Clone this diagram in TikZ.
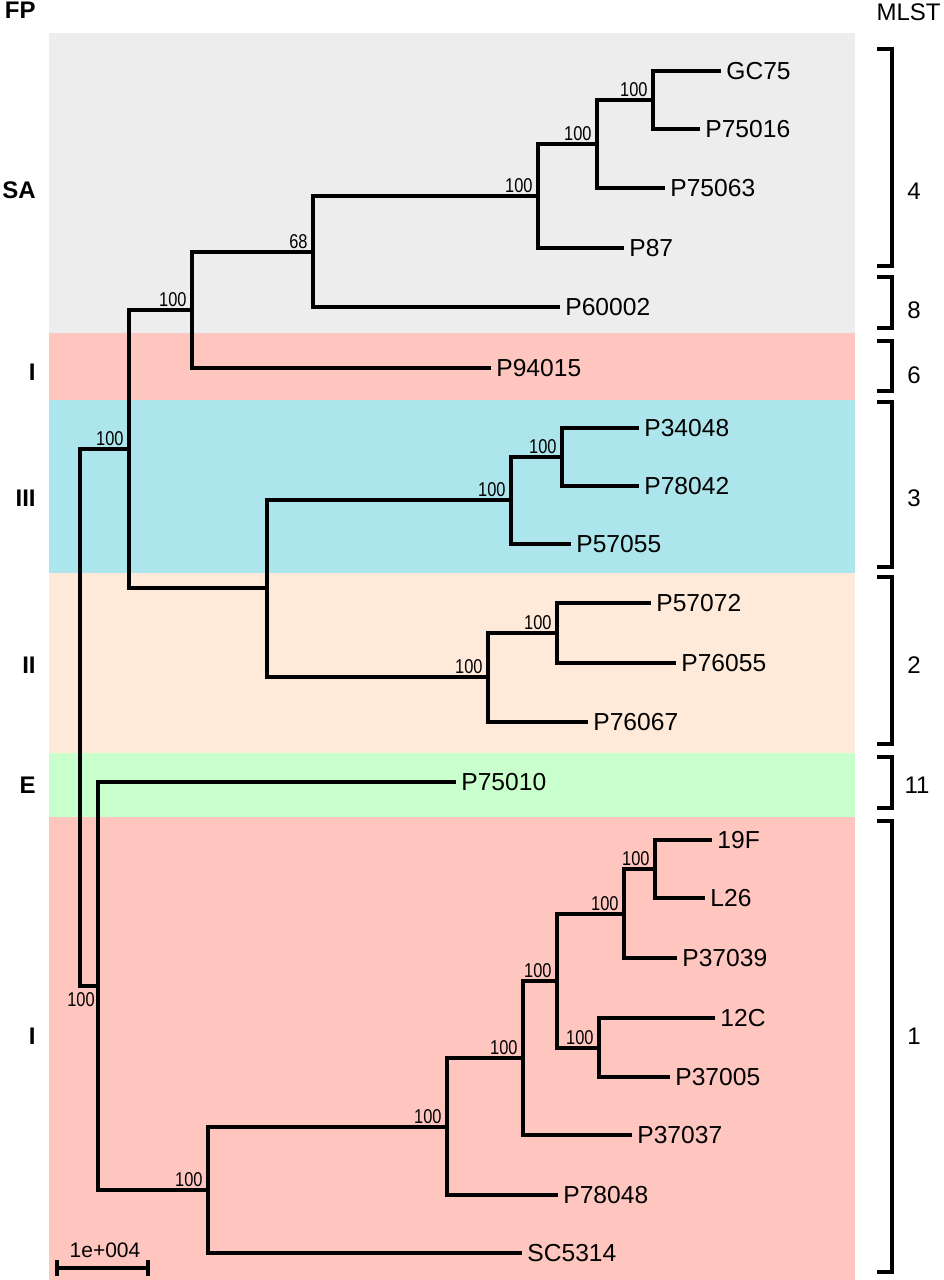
\documentclass[tikz,border=0pt]{standalone}
\usepackage{fontspec}
\setmainfont{Liberation Sans}
\newfontfamily\bootfont[FakeStretch=0.82]{Liberation Sans}

\definecolor{bandgray}{RGB}{237,237,237}
\definecolor{bandred}{RGB}{255,198,192}
\definecolor{bandcyan}{RGB}{172,230,236}
\definecolor{bandpeach}{RGB}{255,234,218}
\definecolor{bandgreen}{RGB}{200,255,204}

\tikzset{
  branch/.style={line width=1.7pt},
  leaf/.style={anchor=west, inner xsep=2.5pt, inner ysep=0pt, font=\fontsize{12.3}{14}\selectfont},
  boot/.style={anchor=south east, inner xsep=2.5pt, inner ysep=1.5pt, font=\bootfont\fontsize{10}{12}\selectfont},
  fp/.style={anchor=east, inner sep=0pt, font=\bfseries\fontsize{12}{14}\selectfont},
  mlst/.style={inner sep=0pt, font=\fontsize{12}{14}\selectfont},
  bracket/.style={line width=1.7pt},
}

\begin{document}
\begin{tikzpicture}[x=0.5pt,y=-0.5pt]
      \useasboundingbox (0,0) rectangle (943,1280);
      \begin{scope}
        % coloured FP bands
        \fill[bandgray] (49,33) rectangle (855,333);
        \fill[bandred] (49,333) rectangle (855,400);
        \fill[bandcyan] (49,400) rectangle (855,573);
        \fill[bandpeach] (49,573) rectangle (855,753);
        \fill[bandgreen] (49,753) rectangle (855,817);
        \fill[bandred] (49,817) rectangle (855,1280);

        % column heads and FP types
        \node[fp] (fp) at (36,10) {FP};
        \node[mlst, anchor=east] (mlst) at (941,12) {MLST};
        \node[fp] (fpsa) at (36,190) {SA};
        \node[fp] (fpi) at (36,372) {I};
        \node[fp] (fpiii) at (36,498) {III};
        \node[fp] (fpii) at (36,665) {II};
        \node[fp] (fpe) at (36,785) {E};
        \node[fp] (fpib) at (36,1036) {I};

        % strains
        \node[leaf] (gc75) at (721,71) {GC75};
        \node[leaf] (p75016) at (700,129) {P75016};
        \node[leaf] (p75063) at (665,188) {P75063};
        \node[leaf] (p87) at (624,248) {P87};
        \node[leaf] (p60002) at (560,307) {P60002};
        \node[leaf] (p94015) at (491,368) {P94015};
        \node[leaf] (p34048) at (639,428) {P34048};
        \node[leaf] (p78042) at (639,486) {P78042};
        \node[leaf] (p57055) at (571,544) {P57055};
        \node[leaf] (p57072) at (651,603) {P57072};
        \node[leaf] (p76055) at (676,663) {P76055};
        \node[leaf] (p76067) at (588,722) {P76067};
        \node[leaf] (p75010) at (456,782) {P75010};
        \node[leaf] (s19f) at (712,840) {19F};
        \node[leaf] (l26) at (705,898) {L26};
        \node[leaf] (p37039) at (677,958) {P37039};
        \node[leaf] (s12c) at (715,1018) {12C};
        \node[leaf] (p37005) at (670,1077) {P37005};
        \node[leaf] (p37037) at (632,1135) {P37037};
        \node[leaf] (p78048) at (558,1195) {P78048};
        \node[leaf] (sc5314) at (522,1253) {SC5314};

        % inner nodes of the tree
        \coordinate (sa1) at (653,100);
        \coordinate (sa2) at (597,144);
        \coordinate (sa3) at (538,196);
        \coordinate (sa4) at (313,252);
        \coordinate (sa5) at (192,310);
        \coordinate (st1) at (562,457);
        \coordinate (st2) at (511,500);
        \coordinate (st3) at (557,633);
        \coordinate (st4) at (488,677);
        \coordinate (st5) at (267,588);
        \coordinate (top) at (129,449);
        \coordinate (sc1) at (655,869);
        \coordinate (sc2) at (624,914);
        \coordinate (sc3) at (599,1048);
        \coordinate (sc4) at (557,981);
        \coordinate (sc5) at (523,1058);
        \coordinate (sc6) at (447,1127);
        \coordinate (sc7) at (208,1190);
        \coordinate (e1) at (98,986);
        \coordinate (root) at (80,717);

        % branches
        \draw[branch] (gc75.west) -| (sa1) |- (p75016.west);
        \draw[branch] (sa1) -| (sa2) |- (p75063.west);
        \draw[branch] (sa2) -| (sa3) |- (p87.west);
        \draw[branch] (sa3) -| (sa4) |- (p60002.west);
        \draw[branch] (sa4) -| (sa5) |- (p94015.west);
        \draw[branch] (p34048.west) -| (st1) |- (p78042.west);
        \draw[branch] (st1) -| (st2) |- (p57055.west);
        \draw[branch] (p57072.west) -| (st3) |- (p76055.west);
        \draw[branch] (st3) -| (st4) |- (p76067.west);
        \draw[branch] (st2) -| (st5) |- (st4);
        \draw[branch] (sa5) -| (top) |- (st5);
        \draw[branch] (s19f.west) -| (sc1) |- (l26.west);
        \draw[branch] (sc1) -| (sc2) |- (p37039.west);
        \draw[branch] (s12c.west) -| (sc3) |- (p37005.west);
        \draw[branch] (sc2) -| (sc4) |- (sc3);
        \draw[branch] (sc4) -| (sc5) |- (p37037.west);
        \draw[branch] (sc5) -| (sc6) |- (p78048.west);
        \draw[branch] (sc6) -| (sc7) |- (sc5314.west);
        \draw[branch] (p75010.west) -| (e1) |- (sc7);
        \draw[branch] (top) -| (root) |- (e1);

        % bootstrap values
        \node[boot] (bsa1) at (sa1) {100};
        \node[boot] (bsa2) at (sa2) {100};
        \node[boot] (bsa3) at (sa3) {100};
        \node[boot] (bsa4) at (sa4) {68};
        \node[boot] (bsa5) at (sa5) {100};
        \node[boot] (bst1) at (st1) {100};
        \node[boot] (bst2) at (st2) {100};
        \node[boot] (bst3) at (st3) {100};
        \node[boot] (bst4) at (st4) {100};
        \node[boot] (btop) at (top) {100};
        \node[boot] (bsc1) at (sc1) {100};
        \node[boot] (bsc2) at (sc2) {100};
        \node[boot] (bsc3) at (sc3) {100};
        \node[boot] (bsc4) at (sc4) {100};
        \node[boot] (bsc5) at (sc5) {100};
        \node[boot] (bsc6) at (sc6) {100};
        \node[boot] (bsc7) at (sc7) {100};
        \node[boot, anchor=north, inner sep=1.5pt] (broot) at (81,989) {100};

        % scale bar
        \coordinate (sbl) at (57,1268);
        \coordinate (sbr) at (148,1268);
        \draw[branch] (sbl) -- (sbr);
        \draw[branch] (sbl) ++(0,-8) -- ++(0,16);
        \draw[branch] (sbr) ++(0,-8) -- ++(0,16);
        \node[anchor=south, inner sep=1.5pt, font=\fontsize{10.5}{12}\selectfont] (sblabel) at (105,1261) {1e+004};

        % MLST brackets
        \draw[bracket] (877,49) -| (892,266) -- (877,266);
        \draw[bracket] (877,277) -| (892,328) -- (877,328);
        \draw[bracket] (877,341) -| (892,391) -- (877,391);
        \draw[bracket] (877,402) -| (892,567) -- (877,567);
        \draw[bracket] (877,577) -| (892,744) -- (877,744);
        \draw[bracket] (877,757) -| (892,808) -- (877,808);
        \draw[bracket] (877,821) -| (892,1272) -- (877,1272);
        \node[mlst] (st4num) at (914,191) {4};
        \node[mlst] (st8num) at (914,310) {8};
        \node[mlst] (st6num) at (914,375) {6};
        \node[mlst] (st3num) at (914,498) {3};
        \node[mlst] (st2num) at (914,665) {2};
        \node[mlst] (st11num) at (917,785) {11};
        \node[mlst] (st1num) at (914,1036) {1};
      \end{scope}
  \end{tikzpicture}
\end{document}
